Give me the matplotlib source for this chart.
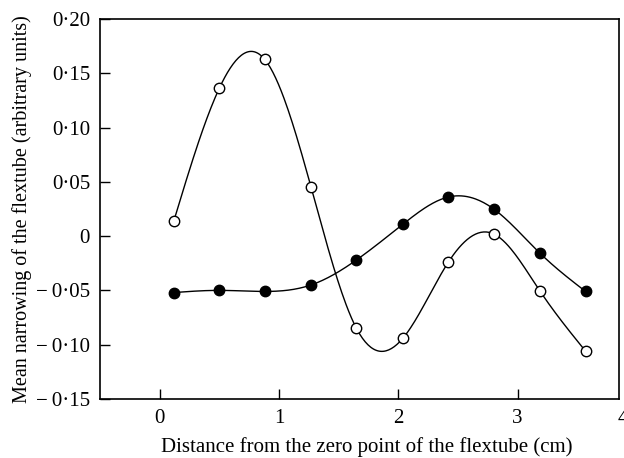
import numpy as np
import matplotlib
matplotlib.use("Agg")
import matplotlib.pyplot as plt

# distance along the flextube (cm)
distance = [0.12, 0.50, 0.88, 1.27, 1.65, 2.04, 2.42, 2.80, 3.19, 3.57]
# open circles
open_vals = [0.014, 0.136, 0.163, 0.045, -0.085, -0.094, -0.024, 0.002, -0.051, -0.106]
# filled circles
filled_vals = [-0.052, -0.050, -0.051, -0.045, -0.022, 0.011, 0.036, 0.025, -0.016, -0.051]

yticks = [-0.15, -0.10, -0.05, 0, 0.05, 0.10, 0.15, 0.20]
ytick_labels = ["\u2212\u20090\u00b715", "\u2212\u20090\u00b710", "\u2212\u20090\u00b705", "0",
                "0\u00b705", "0\u00b710", "0\u00b715", "0\u00b720"]
xticks = [0, 1, 2, 3]


def natural_spline(x, y, n=300):
    x = np.asarray(x, float)
    y = np.asarray(y, float)
    k = len(x)
    h = np.diff(x)
    A = np.zeros((k, k))
    b = np.zeros(k)
    A[0, 0] = 1
    A[-1, -1] = 1
    for i in range(1, k - 1):
        A[i, i - 1] = h[i - 1]
        A[i, i] = 2 * (h[i - 1] + h[i])
        A[i, i + 1] = h[i]
        b[i] = 6 * ((y[i + 1] - y[i]) / h[i] - (y[i] - y[i - 1]) / h[i - 1])
    M = np.linalg.solve(A, b)
    xs = np.linspace(x[0], x[-1], n)
    idx = np.clip(np.searchsorted(x, xs) - 1, 0, k - 2)
    x0, x1 = x[idx], x[idx + 1]
    hh = x1 - x0
    t0 = x1 - xs
    t1 = xs - x0
    ys = (M[idx] * t0 ** 3 + M[idx + 1] * t1 ** 3) / (6 * hh) \
        + (y[idx] / hh - M[idx] * hh / 6) * t0 \
        + (y[idx + 1] / hh - M[idx + 1] * hh / 6) * t1
    return xs, ys


plt.rcParams["font.family"] = ["Liberation Serif", "DejaVu Serif"]
fs = 15

fig = plt.figure(figsize=(6.24, 4.58), dpi=100)
ax = fig.add_axes([0.160, 0.129, 0.832, 0.8295])

xs, ys = natural_spline(distance, open_vals)
ax.plot(xs, ys, color="black", lw=1.0)
xs, ys = natural_spline(distance, filled_vals)
ax.plot(xs, ys, color="black", lw=1.0)

ax.plot(distance, open_vals, "o", ms=7.5, mfc="white", mec="black", mew=1.0)
ax.plot(distance, filled_vals, "o", ms=7.5, mfc="black", mec="black")

ax.set_xlim(-0.5, 3.85)
ax.set_ylim(-0.15, 0.20)
ax.set_xticks(xticks)
ax.set_yticks(yticks)
ax.set_yticklabels(ytick_labels)
ax.tick_params(direction="in", length=7, width=1, labelsize=fs, pad=7)
# the "4" tick label sits at the right edge, partly cut off
ax.annotate("4", xy=(3.835, 0), xycoords=("data", "axes fraction"),
            xytext=(0, -7), textcoords="offset points",
            fontsize=fs, ha="left", va="top", annotation_clip=False)

for s in ax.spines.values():
    s.set_linewidth(1.2)

ax.set_xlabel("Distance from the zero point of the flextube (cm)", fontsize=fs,
              labelpad=7, x=0.515)
ax.set_ylabel("Mean narrowing of the flextube (arbitrary units)", fontsize=14.5)
ax.yaxis.set_label_coords(-0.13, 0.5)

fig.savefig("out.png", dpi=100)
